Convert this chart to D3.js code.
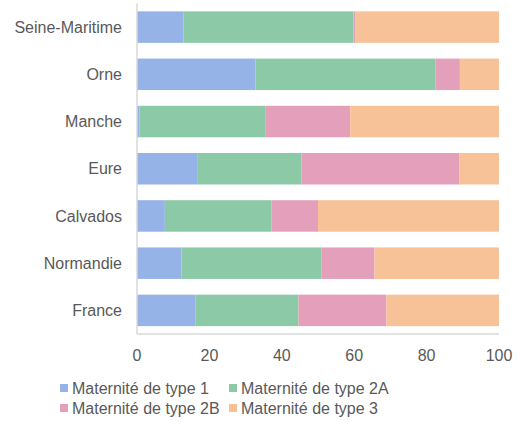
<!DOCTYPE html>
<html>
<head>
<meta charset="utf-8">
<script src="https://cdn.jsdelivr.net/npm/d3@7"></script>
<style>
  body { margin: 0; background: #fff; }
  text { font-family: "Liberation Sans", Arial, sans-serif; fill: #595959; }
</style>
</head>
<body>
<svg width="520" height="425"></svg>
<script>
var categories = ["Seine-Maritime", "Orne", "Manche", "Eure", "Calvados", "Normandie", "France"]
var seriesNames = ["Maternité de type 1", "Maternité de type 2A", "Maternité de type 2B", "Maternité de type 3"]
var type1 = [12.8, 32.7, 0.7, 16.8, 7.7, 12.3, 16.1]
var type2A = [47.0, 49.8, 34.7, 28.6, 29.4, 38.7, 28.5]
var type2B = [0.6, 6.7, 23.5, 43.7, 12.9, 14.6, 24.3]
var type3 = [39.6, 10.8, 41.1, 10.9, 50.0, 34.4, 31.1]
var xTicks = [0, 20, 40, 60, 80, 100]
var colors = ["#95b3e7", "#8cc9a6", "#e4a0bb", "#f7c297"]

var svg = d3.select("svg")
var plotL = 137, plotR = 499, plotT = 3.5, plotB = 334

var x = d3.scaleLinear().domain([0, 100]).range([plotL, plotR])
var y = d3.scaleBand().domain(categories).range([plotT, plotB]).paddingInner(0.333).paddingOuter(0.1665)

// build rows for stacking
var keys = ["t1", "t2A", "t2B", "t3"]
var rows = categories.map(function (c, i) {
  return { cat: c, t1: type1[i], t2A: type2A[i], t2B: type2B[i], t3: type3[i] }
})
var stacked = d3.stack().keys(keys)(rows)

svg.selectAll("g.series")
  .data(stacked)
  .enter().append("g")
    .attr("fill", function (d, i) { return colors[i] })
  .selectAll("rect")
  .data(function (d) { return d })
  .enter().append("rect")
    .attr("x", function (d) { return x(d[0]) })
    .attr("y", function (d) { return y(d.data.cat) })
    .attr("width", function (d) { return x(d[1]) - x(d[0]) })
    .attr("height", y.bandwidth())

// axes lines
svg.append("line")
  .attr("x1", plotL).attr("x2", plotL).attr("y1", plotT).attr("y2", plotB)
  .attr("stroke", "#d9d9d9").attr("stroke-width", 1.5)
svg.append("line")
  .attr("x1", plotL).attr("x2", plotR).attr("y1", plotB).attr("y2", plotB)
  .attr("stroke", "#d9d9d9").attr("stroke-width", 1.5)

// category labels
svg.selectAll("text.cat")
  .data(categories)
  .enter().append("text")
    .attr("class", "cat")
    .attr("x", 122)
    .attr("y", function (d) { return y(d) + y.bandwidth() / 2 })
    .attr("dy", "0.35em")
    .attr("text-anchor", "end")
    .style("font-size", "16px")
    .text(function (d) { return d })

// x tick labels
svg.selectAll("text.tick")
  .data(xTicks)
  .enter().append("text")
    .attr("class", "tick")
    .attr("x", function (d) { return x(d) })
    .attr("y", 355)
    .attr("dy", "0.35em")
    .attr("text-anchor", "middle")
    .style("font-size", "16px")
    .text(function (d) { return d })

// legend
var legPos = [[60, 388], [229, 388], [60, 408], [229, 408]]
seriesNames.forEach(function (name, i) {
  var p = legPos[i]
  svg.append("rect")
    .attr("x", p[0]).attr("y", p[1] - 4)
    .attr("width", 8).attr("height", 8)
    .attr("fill", colors[i])
  svg.append("text")
    .attr("x", p[0] + 12).attr("y", p[1])
    .attr("dy", "0.35em")
    .style("font-size", "16px")
    .text(name)
})
</script>
</body>
</html>
